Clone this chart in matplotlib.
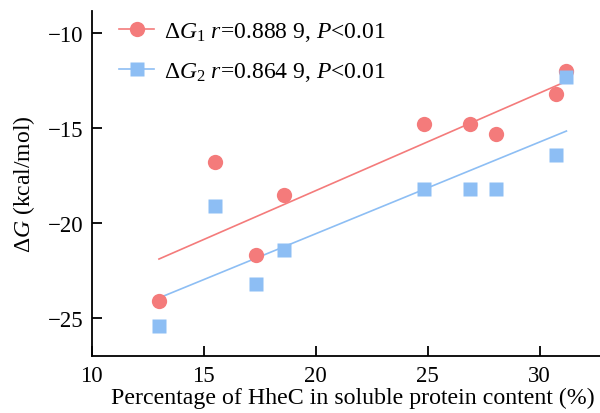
import numpy as np
import matplotlib
matplotlib.use("Agg")
import matplotlib.pyplot as plt

plt.rcParams['font.family'] = ['Liberation Serif', 'DejaVu Serif']
plt.rcParams['mathtext.fontset'] = 'custom'
plt.rcParams['mathtext.rm'] = 'Liberation Serif'
plt.rcParams['mathtext.it'] = 'Liberation Serif:italic'

pct = [13.0, 15.5, 17.35, 18.6, 24.85, 26.9, 28.05, 30.75, 31.2]
dg1 = [-24.1, -16.8, -21.7, -18.5, -14.8, -14.8, -15.3, -13.2, -12.0]
dg2 = [-25.4, -19.1, -23.2, -21.4, -18.2, -18.2, -18.2, -16.4, -12.3]
labels = ['Δ$G_1$ $r$=0.888 9, $P$<0.01', 'Δ$G_2$ $r$=0.864 9, $P$<0.01']
red = '#F47B7B'
blue = '#8DBEF4'

fig = plt.figure(figsize=(6, 4.14), dpi=100)
ax = fig.add_axes([0.153, 0.137, 0.847, 0.834])

x = np.array(pct)
xs = np.array([x.min(), x.max()])
for y, c, m, ms, lab in [(dg1, red, 'o', 11, labels[0]), (dg2, blue, 's', 10.5, labels[1])]:
    k, b = np.polyfit(x, np.array(y), 1)
    ax.plot(xs, k * xs + b, color=c, lw=1.2, zorder=2)
    ax.plot(x, y, ls='none', marker=m, ms=ms, color=c, mec='none', zorder=3)
    ax.plot([], [], color=c, marker=m, ms=ms, mec='none', lw=1.2, label=lab)

ax.set_xlim(10, 32.7)
ax.set_ylim(-27, -8.85)
ax.set_xticks([10, 15, 20, 25, 30])
ax.set_yticks([-25, -20, -15, -10])
ax.set_yticklabels(['−25', '−20', '−15', '−10'])
for s in ['top', 'right']:
    ax.spines[s].set_visible(False)
for s in ['left', 'bottom']:
    ax.spines[s].set_linewidth(1.3)
ax.tick_params(direction='in', length=7, width=1.3, labelsize=16.5)
ax.tick_params(axis='x', pad=6)
ax.tick_params(axis='y', pad=6)
ax.set_xlabel('Percentage of HheC in soluble protein content (%)', fontsize=17.2, labelpad=1)
ax.xaxis.label.set_x(0.513)
ax.set_ylabel('Δ$G$ (kcal/mol)', fontsize=17, labelpad=8)
ax.legend(loc='upper left', frameon=False, fontsize=17, handlelength=1.5,
          borderaxespad=0.0, bbox_to_anchor=(0.035, 1.0), labelspacing=0.72, handletextpad=0.4)

fig.savefig('out.png', dpi=100)
